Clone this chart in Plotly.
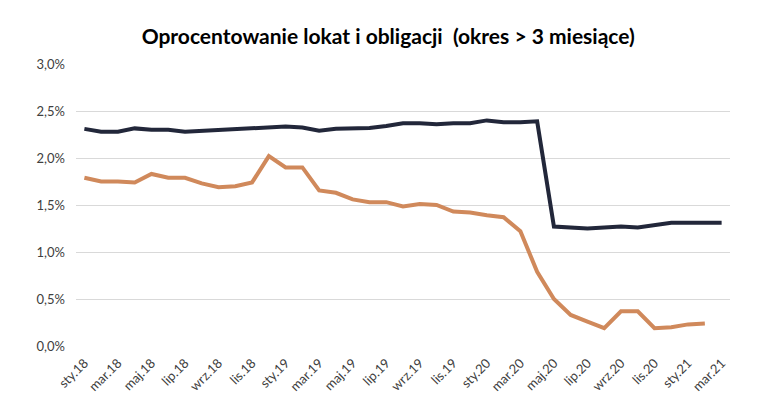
import plotly.graph_objects as go

months = ["sty", "lut", "mar", "kwi", "maj", "cze", "lip", "sie", "wrz", "paź", "lis", "gru"]
years = ["18", "19", "20", "21"]
categories = [f"{m}.{y}" for y in years for m in months][:39]

lokaty = [2.31, 2.28, 2.28, 2.315, 2.30, 2.30, 2.28, 2.29, 2.30, 2.30, 2.32, 2.32, 2.335,
          2.325, 2.29, 2.31, 2.31, 2.32, 2.34, 2.37, 2.37, 2.36, 2.37, 2.37, 2.40, 2.38,
          2.38, 2.39, 1.27, 1.26, 1.25, 1.26, 1.27, 1.26, 1.28, 1.31, 1.31, 1.31, 1.31]
obligacje = [1.79, 1.75, 1.75, 1.74, 1.83, 1.79, 1.79, 1.73, 1.69, 1.70, 1.74, 2.02, 1.90,
             1.90, 1.655, 1.63, 1.56, 1.53, 1.53, 1.485, 1.51, 1.50, 1.43, 1.42, 1.39, 1.37,
             1.22, 0.79, 0.50, 0.33, 0.26, 0.19, 0.37, 0.37, 0.19, 0.20, 0.23, 0.24, None]

tick_labels = categories[::2]

fig = go.Figure()
fig.add_trace(go.Scatter(x=categories, y=[v / 100 for v in lokaty], mode="lines",
                         line=dict(color="#22273a", width=4), name="lokaty"))
fig.add_trace(go.Scatter(x=categories, y=[None if v is None else v / 100 for v in obligacje],
                         mode="lines", line=dict(color="#d0895b", width=4), name="obligacje"))

fig.update_layout(
    width=765, height=403,
    margin=dict(l=68, r=43, t=56, b=65),
    paper_bgcolor="white", plot_bgcolor="white",
    showlegend=False,
    separators=",.",
    font=dict(family="Lato, Open Sans, sans-serif", size=13, color="#333333"),
    title=dict(text="<b>Oprocentowanie lokat i obligacji  (okres &gt; 3 miesiące)</b>",
               x=0.497, xanchor="center", y=0.93, yanchor="middle",
               font=dict(family="Lato, Open Sans, sans-serif", size=21, color="black")),
)
fig.update_xaxes(type="category", range=[-0.5, 38.5], tickmode="array",
                 tickvals=tick_labels, ticktext=tick_labels, tickangle=-45,
                 showgrid=False, showline=False, zeroline=False, automargin=False,
                 ticklabelstandoff=6,
                 tickfont=dict(size=13, color="#404040"))
fig.update_yaxes(range=[0, 0.03], dtick=0.005, tickformat=".1%",
                 showgrid=True, gridcolor="#d9d9d9", gridwidth=1,
                 zeroline=False, showline=False, ticklabelstandoff=10, automargin=False,
                 tickfont=dict(size=13, color="#404040"))

fig.write_html("out.html")
